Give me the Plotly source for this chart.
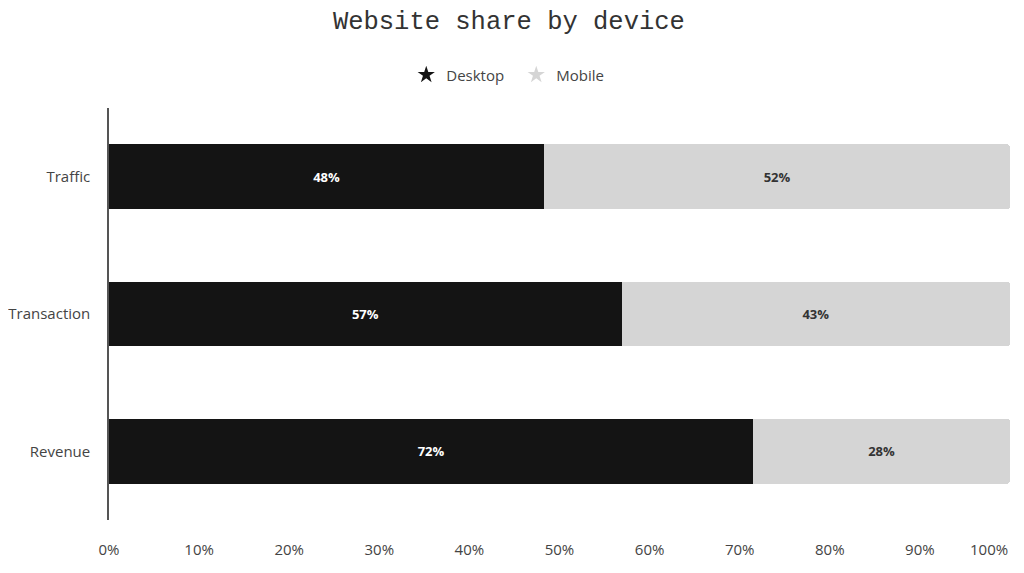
import plotly.graph_objects as go

categories = ["Traffic", "Transaction", "Revenue"]
desktop = [48.3, 56.9, 71.5]
mobile = [51.7, 43.1, 28.5]
desktop_labels = ["48%", "57%", "72%"]
mobile_labels = ["52%", "43%", "28%"]
tick_vals = [0, 10, 20, 30, 40, 50, 60, 70, 80, 90, 100]
tick_text = ["0%", "10%", "20%", "30%", "40%", "50%", "60%", "70%", "80%", "90%", ""]

fig = go.Figure()
fig.add_trace(go.Bar(y=categories, x=desktop, orientation="h", name="Desktop",
                     marker=dict(color="#141414", line=dict(width=0)),
                     text=desktop_labels, textposition="inside", insidetextanchor="middle",
                     textfont=dict(color="white", size=13, family="Open Sans", weight="bold"),
                     showlegend=False, hoverinfo="x+y"))
fig.add_trace(go.Bar(y=categories, x=mobile, orientation="h", name="Mobile",
                     marker=dict(color="#d5d5d5", line=dict(width=0)),
                     text=mobile_labels, textposition="inside", insidetextanchor="middle",
                     textfont=dict(color="#333333", size=13, family="Open Sans", weight="bold"),
                     showlegend=False, hoverinfo="x+y"))
# star markers for the legend only
fig.add_trace(go.Scatter(x=[None], y=[None], mode="markers", name="Desktop",
                         marker=dict(symbol="star", color="#141414", size=13)))
fig.add_trace(go.Scatter(x=[None], y=[None], mode="markers", name="Mobile",
                         marker=dict(symbol="star", color="#d5d5d5", size=13)))

# last tick label sits flush with the right end of the axis
fig.add_annotation(text="100%", x=100, xref="x", y=0, yref="paper", xanchor="right",
                   yanchor="middle", yshift=-29, showarrow=False,
                   font=dict(size=15, color="#444444", family="Open Sans"))

fig.update_layout(
    width=1016, height=565,
    barmode="stack", bargap=0.53, barcornerradius=3,
    paper_bgcolor="white", plot_bgcolor="white",
    margin=dict(l=101, r=14, t=100, b=53, autoexpand=False),
    title=dict(text="Website share by device", x=0.493, xanchor="center", y=0.979, yanchor="middle",
               font=dict(family="Courier New, Liberation Mono, monospace", size=25.5, color="#333333")),
    legend=dict(orientation="h", traceorder="normal", x=0.452, xanchor="center",
                y=1.08, yanchor="middle", font=dict(family="Open Sans", size=15, color="#444444"),
                entrywidth=65),
    font=dict(family="Open Sans", color="#444444"),
    xaxis=dict(range=[0, 100], tickvals=tick_vals, ticktext=tick_text, showgrid=False,
               zeroline=False, showline=False, tickfont=dict(size=15, color="#444444"),
               ticklabelstandoff=19, tickangle=0, automargin=False, fixedrange=True),
    yaxis=dict(autorange="reversed", showgrid=False, zeroline=False, showline=True,
               linecolor="#555555", linewidth=1.5, tickfont=dict(size=15, color="#444444"),
               ticklabelstandoff=14, automargin=False, fixedrange=True),
)

fig.write_html("out.html")
